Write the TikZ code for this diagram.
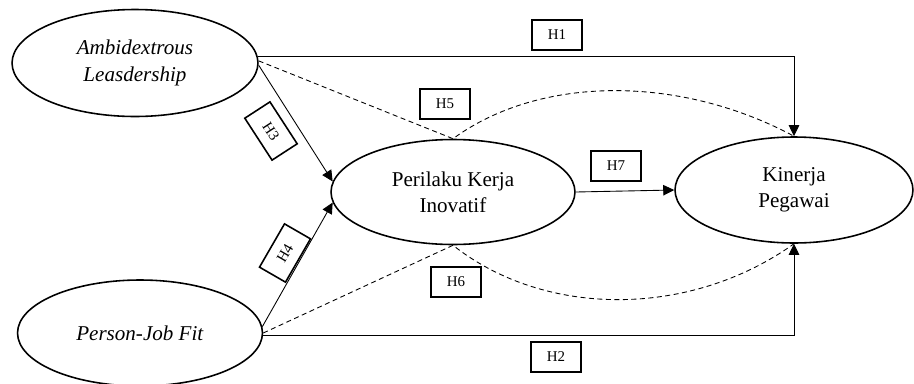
\documentclass[tikz,border=0pt]{standalone}
\usepackage{fontspec}
\setmainfont{Liberation Serif}
\usetikzlibrary{shapes.geometric,arrows.meta}

\begin{document}
\begin{tikzpicture}[x=0.02cm, y=-0.02cm,
    var/.style={ellipse, draw, line width=0.9pt, align=center, inner sep=0pt,
        font=\fontsize{12}{15}\selectfont},
    hbox/.style={draw, line width=0.9pt, minimum width=1cm, minimum height=0.6cm,
        inner sep=0pt, font=\fontsize{8.5}{10}\selectfont},
    link/.style={line width=0.5pt, -{Triangle[length=2.2mm,width=2.1mm]}},
    mediate/.style={line width=0.5pt, dash pattern=on 1mm off 0.7mm}]
\useasboundingbox (0,0) rectangle (914,383);
% variables
\node[var, minimum width=4.92cm, minimum height=2.14cm] (al) at (135,63)
    {\textit{Ambidextrous}\\\textit{Leasdership}};
\node[var, minimum width=4.9cm, minimum height=2.12cm] (pjf) at (140,333)
    {\textit{Person-Job Fit}};
\node[var, minimum width=4.88cm, minimum height=2.1cm] (pki) at (453,192)
    {Perilaku Kerja\\Inovatif};
\node[var, minimum width=4.76cm, minimum height=2.12cm] (kp) at (794,190)
    {Kinerja\\Pegawai};
% direct paths
\draw[link] (al.3) -| (kp.north);
\draw[link] (pjf.-1) -| (kp.south);
\draw[link] (al.-1) -- (pki.175);
\draw[link] (pjf.3) -- (pki.185);
\draw[link] (pki.east) -- (kp.west);
% mediation paths
\draw[mediate] (al.1) -- (pki.north)
    .. controls (540,75) and (680,75) .. (kp.north);
\draw[mediate] (pjf.east) -- (pki.south)
    .. controls (545,318) and (690,318) .. (kp.south);
% hypotheses
\node[hbox] (h1) at (557,35) {H1};
\node[hbox] (h2) at (556,357) {H2};
\node[hbox, rotate=-57] (h3) at (271,131) {H3};
\node[hbox, rotate=60] (h4) at (285,253) {H4};
\node[hbox] (h5) at (445,104) {H5};
\node[hbox] (h6) at (456,282) {H6};
\node[hbox] (h7) at (616,166) {H7};
\end{tikzpicture}
\end{document}
